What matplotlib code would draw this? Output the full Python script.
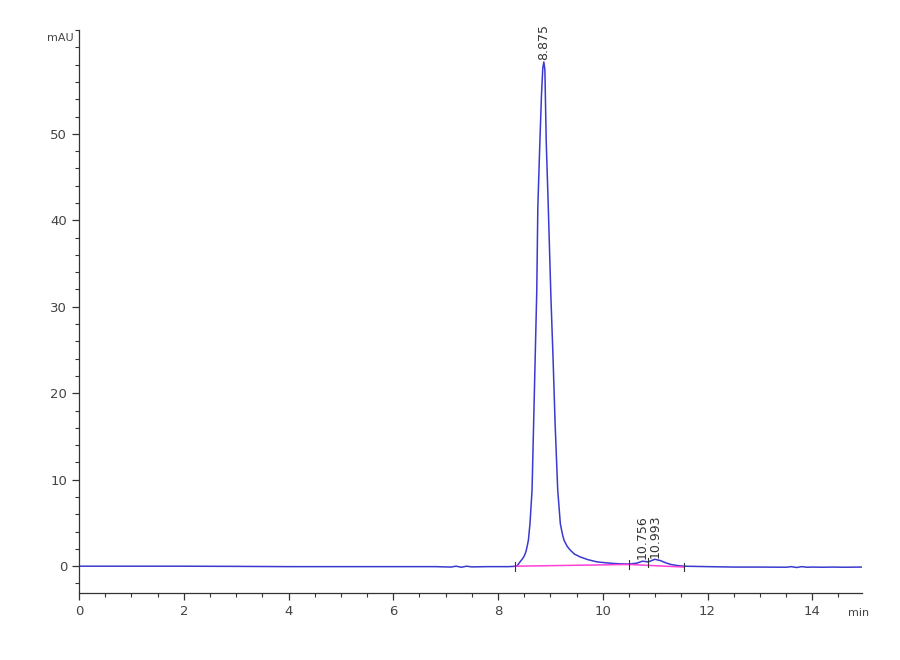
import matplotlib.pyplot as plt
from matplotlib.ticker import MultipleLocator

# chromatogram trace (min, mAU)
time = [0.0, 1.0, 2.0, 3.0, 4.0, 5.0, 6.0, 6.8, 7.1, 7.2, 7.3, 7.4, 7.5, 7.8,
        8.0, 8.2, 8.36, 8.42, 8.46, 8.49, 8.52, 8.54, 8.56, 8.58, 8.61, 8.65,
        8.68, 8.71, 8.74, 8.76, 8.80, 8.83, 8.855, 8.875, 8.895, 8.92, 8.96,
        9.01, 9.05, 9.09, 9.14, 9.19, 9.23, 9.26, 9.32, 9.38, 9.46, 9.57,
        9.72, 9.89, 10.05, 10.2, 10.35, 10.5, 10.65, 10.756, 10.87, 10.993,
        11.1, 11.2, 11.3, 11.42, 11.55, 12.0, 12.5, 13.0, 13.5, 13.6, 13.7,
        13.8, 13.9, 14.0, 14.2, 14.4, 14.6, 14.95]
signal = [0.0, 0.0, 0.0, -0.02, -0.05, -0.05, -0.05, -0.05, -0.1, 0.0, -0.12,
          0.0, -0.08, -0.05, -0.05, -0.05, 0.0, 0.5, 0.8, 1.07, 1.45, 1.85,
          2.4, 3.0, 4.9, 8.8, 16.5, 24.2, 31.9, 41.5, 49.2, 54.5, 57.6, 58.3,
          57.4, 49.2, 41.5, 31.1, 24.2, 16.5, 8.8, 4.9, 3.7, 3.0, 2.3, 1.85,
          1.4, 1.07, 0.75, 0.5, 0.4, 0.32, 0.27, 0.25, 0.35, 0.58, 0.5, 0.8,
          0.65, 0.4, 0.2, 0.08, 0.0, -0.05, -0.1, -0.1, -0.12, -0.05, -0.15,
          -0.05, -0.12, -0.1, -0.12, -0.1, -0.12, -0.1]

# integration baselines
base_t = [[8.33, 10.5], [10.5, 11.55]]
base_v = [[0.0, 0.2], [0.2, -0.1]]
event_t = [8.33, 10.5, 10.87, 11.55]
event_v = [0.0, 0.2, 0.45, -0.1]

peak_t = [8.875, 10.756, 10.993]
peak_v = [58.3, 0.58, 0.8]
peak_lbl = ['8.875', '10.756', '10.993']

fig = plt.figure(figsize=(9, 6.6), dpi=100)
ax = fig.add_axes([0.0878, 0.1015, 0.870, 0.853])

ax.plot(time, signal, color='#3a3ad0', linewidth=1.1)
for bt, bv in zip(base_t, base_v):
    ax.plot(bt, bv, color='#ff3fd8', linewidth=1.1)
for t, v in zip(event_t, event_v):
    ax.plot([t, t], [v - 0.5, v + 0.5], color='#333333', linewidth=0.8)

for t, v, s in zip(peak_t, peak_v, peak_lbl):
    ax.text(t, v + 0.2, s, rotation=90, ha='center', va='bottom',
            fontsize=9, color='#333333')

ax.set_xlim(0, 14.95)
ax.set_ylim(-3.1, 62)
ax.xaxis.set_major_locator(MultipleLocator(2))
ax.xaxis.set_minor_locator(MultipleLocator(0.5))
ax.yaxis.set_major_locator(MultipleLocator(10))
ax.yaxis.set_minor_locator(MultipleLocator(2))
ax.set_yticks(range(0, 60, 10))

for side in ['top', 'right']:
    ax.spines[side].set_visible(False)
for side in ['left', 'bottom']:
    ax.spines[side].set_color('#333333')
    ax.spines[side].set_linewidth(0.9)

ax.tick_params(which='major', direction='out', length=5, width=0.9,
               colors='#333333', labelsize=9.5, labelcolor='#444444')
ax.tick_params(which='minor', direction='out', length=3, width=0.8,
               colors='#333333')

fig.text(0.052, 0.942, 'mAU', fontsize=8, color='#444444', va='center')
fig.text(0.942, 0.071, 'min', fontsize=8, color='#444444', va='center')

fig.savefig('out.png', dpi=100)
